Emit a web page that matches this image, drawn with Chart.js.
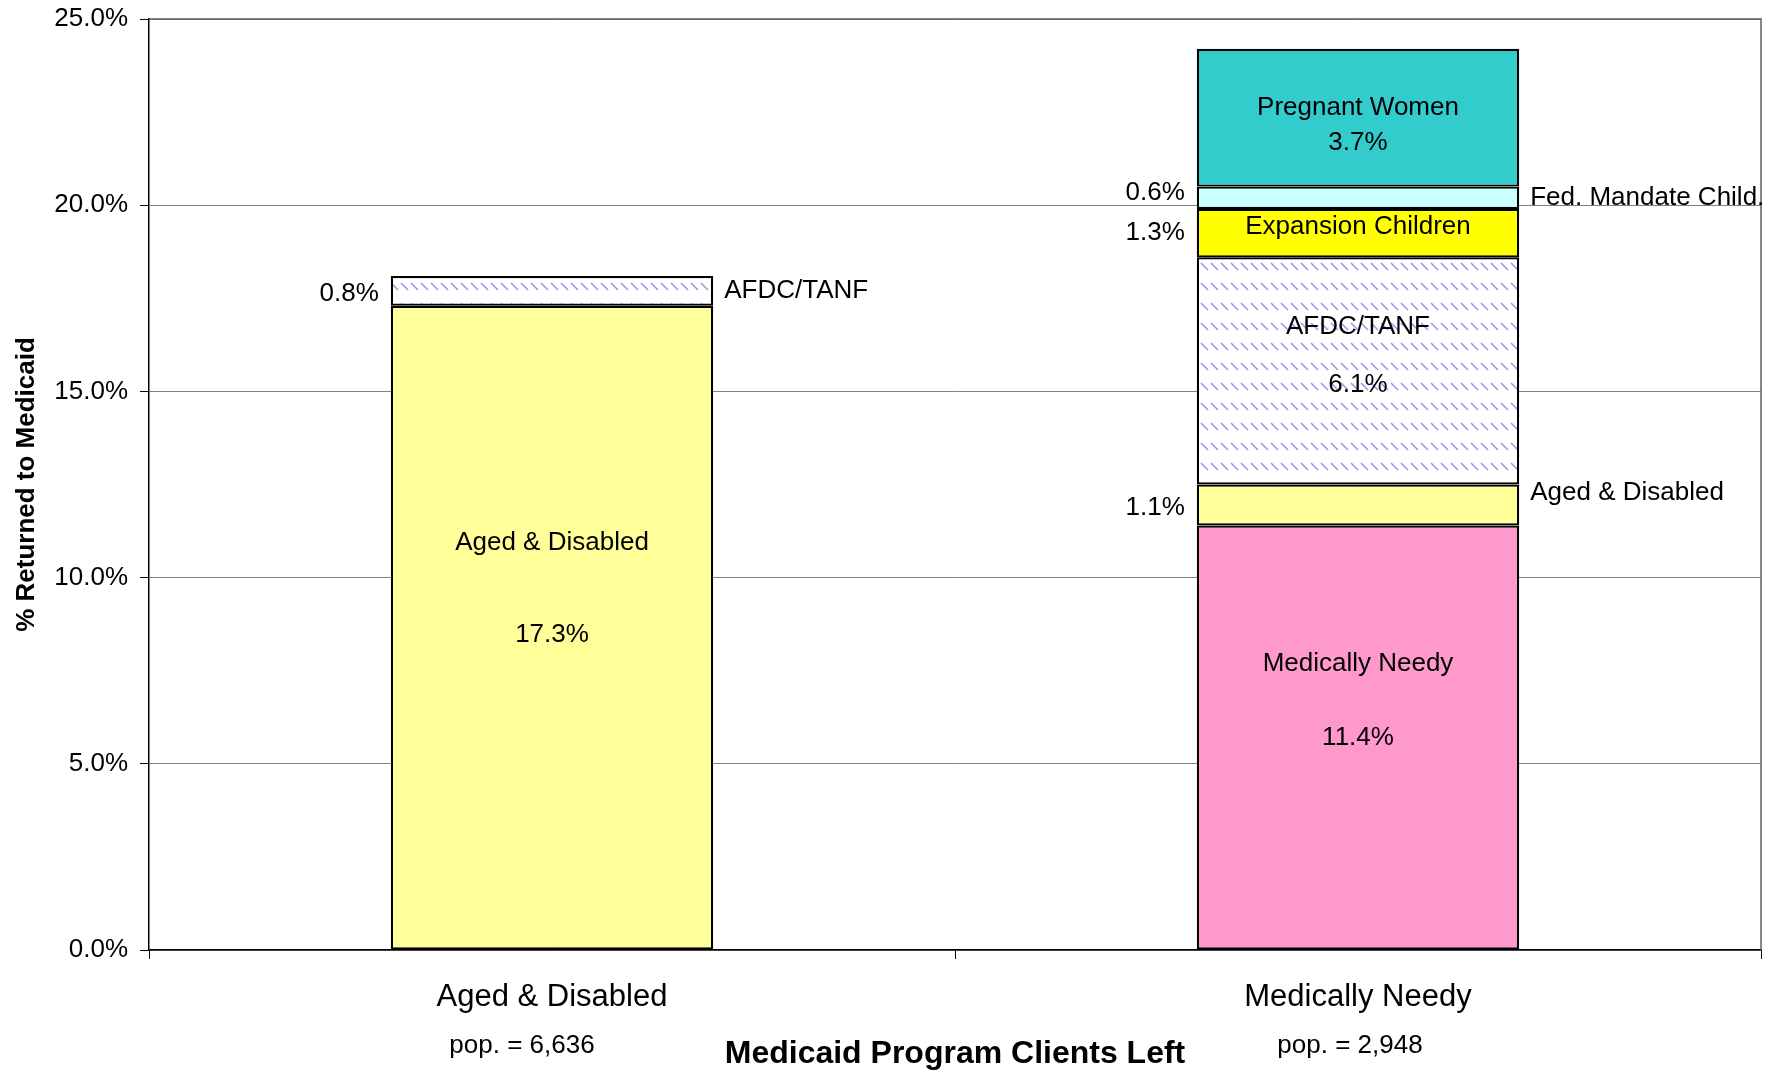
<!DOCTYPE html>
<html>
<head>
<meta charset="utf-8">
<script src="https://cdn.jsdelivr.net/npm/chart.js@4/dist/chart.umd.min.js"></script>
<style>
  html, body { margin: 0; padding: 0; background: #ffffff; }
  #wrap { width: 1782px; height: 1073px; }
</style>
</head>
<body>
<div id="wrap"><canvas id="c" width="1782" height="1073"></canvas></div>
<script>
// ---- data ----
const categories = ['Aged & Disabled', 'Medically Needy'];
const populations = ['pop. = 6,636', 'pop. = 2,948'];
const seriesNames = ['Medically Needy', 'Aged & Disabled', 'AFDC/TANF', 'Expansion Children', 'Fed. Mandate Child.', 'Pregnant Women'];
const medicallyNeedy    = [null, 11.4];
const agedDisabled      = [17.3, 1.1];
const afdcTanf          = [0.8, 6.1];
const expansionChildren = [null, 1.3];
const fedMandateChild   = [null, 0.6];
const pregnantWomen     = [null, 3.7];
const yMin = 0, yMax = 25, yStep = 5;
const xTitle = 'Medicaid Program Clients Left';
const yTitle = '% Returned to Medicaid';

// ---- styles ----
const FONT = '"Liberation Sans", Arial, Helvetica, sans-serif';
const popOffsets = [-30, -8];

function makeHatch() {
  const t = document.createElement('canvas');
  t.width = 10; t.height = 20;
  const g = t.getContext('2d');
  g.fillStyle = '#ffffff';
  g.fillRect(0, 0, 10, 20);
  g.strokeStyle = '#b08af5';
  g.lineWidth = 1.6;
  g.beginPath();
  g.moveTo(1, 3); g.lineTo(8, 10);
  g.stroke();
  return g.createPattern(t, 'repeat');
}
const hatch = makeHatch();

const fills = ['#FF99CC', '#FFFF99', hatch, '#FFFF00', '#CCFFFF', '#33CCCC'];
const seriesData = [medicallyNeedy, agedDisabled, afdcTanf, expansionChildren, fedMandateChild, pregnantWomen];

// label placement per [dataset][bar]: where name / value are drawn and vertical offset from segment centre
const placements = [
  [null, {name: ['in', -74], value: ['in', 0]}],
  [{name: ['in', -85], value: ['in', 7]}, {name: ['right', -12], value: ['left', 3]}],
  [{name: ['right', 0], value: ['left', 3]}, {name: ['in', -44], value: ['in', 14]}],
  [null, {name: ['in', -6], value: ['left', 0]}],
  [null, {name: ['right', 0], value: ['left', -5]}],
  [null, {name: ['in', -10], value: ['in', 25]}]
];

const labelPlugin = {
  id: 'segLabels',
  afterDatasetsDraw(chart) {
    const ctx = chart.ctx;
    ctx.save();
    ctx.font = '26px ' + FONT;
    ctx.fillStyle = '#000';
    ctx.textBaseline = 'middle';
    chart.data.datasets.forEach((ds, di) => {
      const meta = chart.getDatasetMeta(di);
      meta.data.forEach((el, i) => {
        const v = ds.data[i];
        const p = placements[di] && placements[di][i];
        if (v == null || !p) return;
        const props = el.getProps(['x', 'y', 'base', 'width'], true);
        const cy = (props.y + props.base) / 2;
        const left = props.x - props.width / 2, right = props.x + props.width / 2;
        const valTxt = v.toFixed(1) + '%';
        const nameTxt = ds.label;
        if (p.name[0] === 'in') { ctx.textAlign = 'center'; ctx.fillText(nameTxt, props.x, cy + p.name[1]); }
        else { ctx.textAlign = 'left'; ctx.fillText(nameTxt, right + 11, cy + p.name[1]); }
        if (p.value[0] === 'in') { ctx.textAlign = 'center'; ctx.fillText(valTxt, props.x, cy + p.value[1]); }
        else { ctx.textAlign = 'right'; ctx.fillText(valTxt, left - 12, cy + p.value[1]); }
      });
    });
    const xs = chart.scales.x;
    ctx.textAlign = 'center';
    ctx.font = '26px ' + FONT;
    populations.forEach((t, i) => ctx.fillText(t, xs.getPixelForValue(i) + popOffsets[i], 1046));
    ctx.restore();
  }
};

const framePlugin = {
  id: 'frame',
  beforeDatasetsDraw(chart) {
    const a = chart.chartArea, ctx = chart.ctx;
    ctx.save();
    ctx.strokeStyle = '#606060';
    ctx.lineWidth = 1.5;
    ctx.beginPath();
    ctx.moveTo(a.left, a.top); ctx.lineTo(a.right, a.top); ctx.lineTo(a.right, a.bottom);
    ctx.stroke();
    ctx.restore();
  }
};

new Chart(document.getElementById('c'), {
  type: 'bar',
  data: {
    labels: categories,
    datasets: seriesNames.map((n, i) => ({
      label: n,
      data: seriesData[i],
      backgroundColor: fills[i],
      borderColor: '#000000',
      borderWidth: 2.2,
      borderSkipped: false,
      barPercentage: 0.4,
      categoryPercentage: 1.0
    }))
  },
  options: {
    responsive: false,
    animation: false,
    devicePixelRatio: 1,
    layout: { padding: { top: 19, right: 21, left: 0, bottom: 0 } },
    plugins: { legend: { display: false }, tooltip: { enabled: false } },
    scales: {
      x: {
        stacked: true,
        afterFit: s => { s.height = 123; s.paddingLeft = 0; s.paddingRight = 0; },
        grid: { display: true, drawOnChartArea: false, drawTicks: true, tickLength: 9, color: '#000', offset: true },
        border: { color: '#000', width: 1.5 },
        ticks: { color: '#000', font: { family: FONT, size: 31 }, padding: 20 },
        title: { display: true, text: xTitle, color: '#000', font: { family: FONT, size: 32, weight: 'bold' }, padding: { top: 0, bottom: 0 } }
      },
      y: {
        stacked: true,
        min: yMin, max: yMax,
        afterFit: s => { s.width = 149; s.paddingTop = 0; s.paddingBottom = 0; },
        ticks: { stepSize: yStep, color: '#000', font: { family: FONT, size: 26 }, padding: 12,
                 callback: v => Number(v).toFixed(1) + '%' },
        grid: { color: '#808080', lineWidth: 1, tickLength: 9, tickColor: '#000' },
        border: { color: '#000', width: 1.5 },
        title: { display: true, text: yTitle, color: '#000', font: { family: FONT, size: 26, weight: 'bold' }, padding: { top: 11, bottom: 0 } }
      }
    }
  },
  plugins: [framePlugin, labelPlugin]
});
</script>
</body>
</html>
